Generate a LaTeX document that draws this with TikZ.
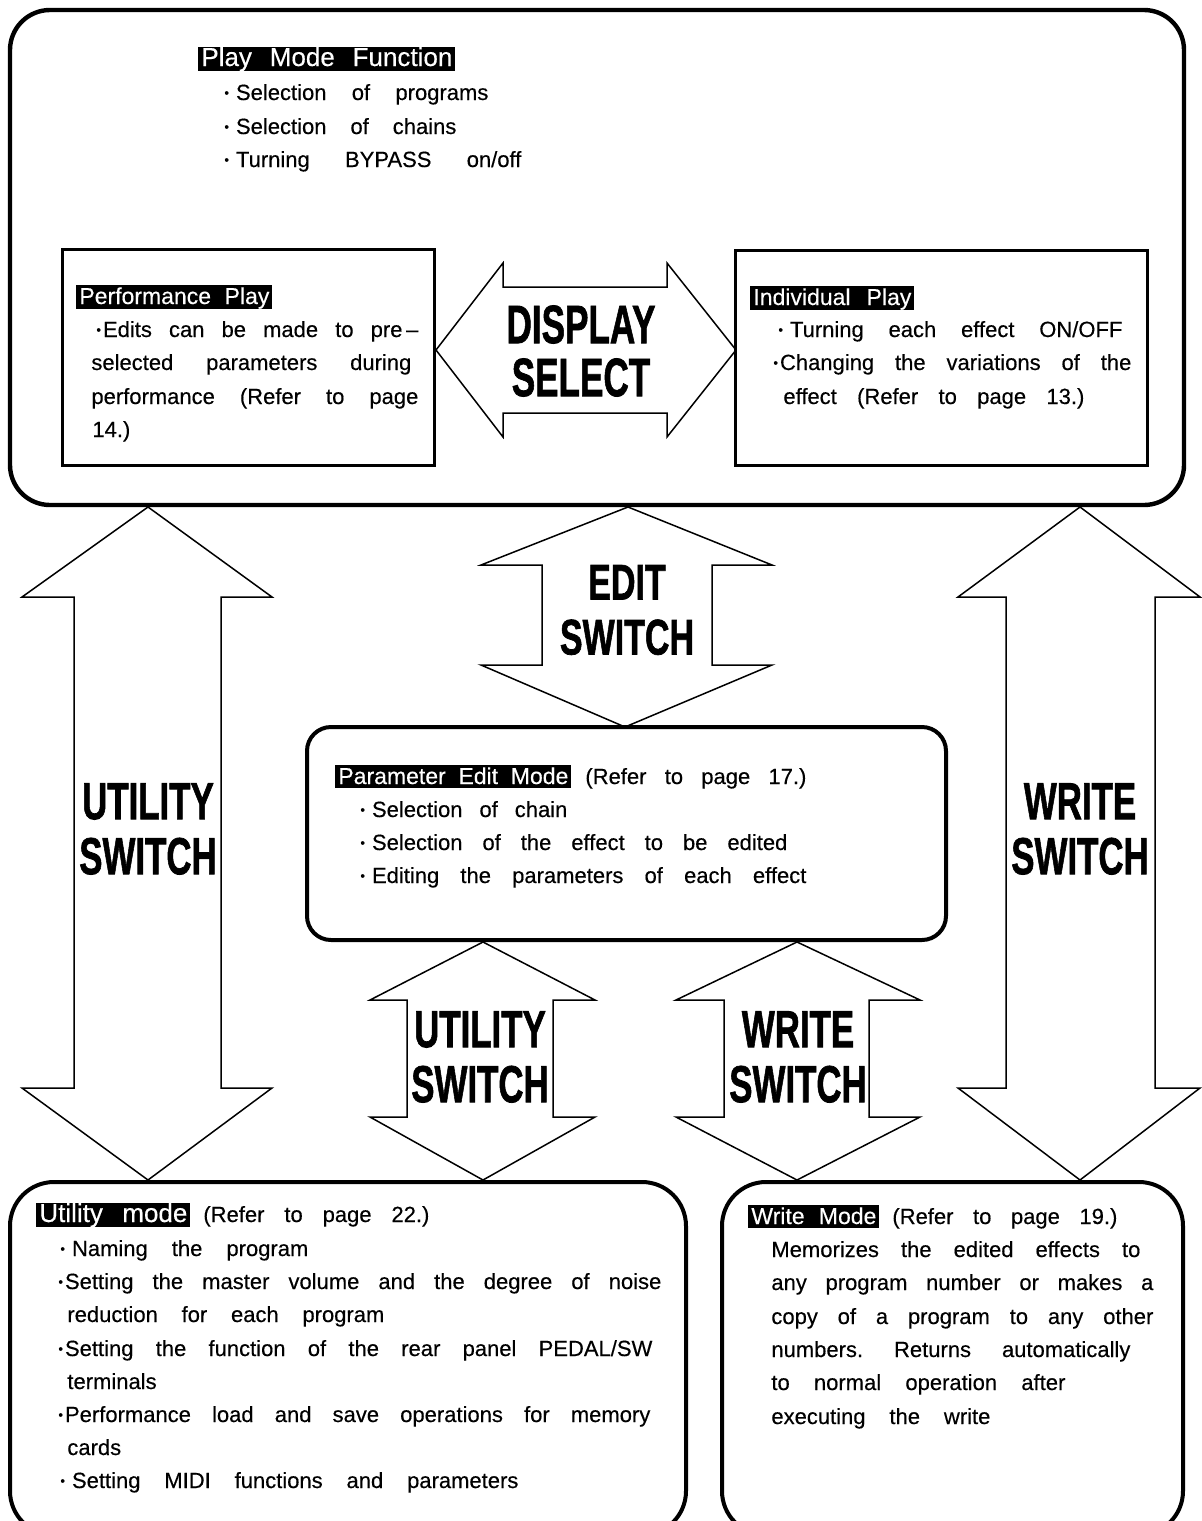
\documentclass[tikz,border=0pt]{standalone}
\usepackage{graphicx}
\usepackage{fontspec}
\setmainfont{Liberation Sans}[UprightFeatures={FakeBold=0.35}]
\newfontfamily\lblfont{Liberation Sans}[BoldFeatures={FakeBold=1.5}]
\newlength\px \setlength\px{0.5pt}
\newcommand\bodyfont{\fontsize{11}{16.6}\selectfont\frenchspacing\spaceskip=9pt plus 20pt minus 6pt\relax}
\newcommand\ttlfont{\fontsize{11.5}{16.6}\selectfont}
\newcommand\jl[2]{\makebox[#1\px][s]{#2}}
\newcommand\hlb[2]{{\setlength\fboxsep{0pt}\colorbox{black}{\color{white}\rule[-2pt]{0pt}{11.5pt}\hspace{1.5pt}\makebox[\dimexpr#1\px-3pt\relax][s]{#2}\hspace{1.5pt}}}}
\newcommand\bulA{\raisebox{0.12em}{\scalebox{0.6}{•}}\hspace{3.5pt}}
\newcommand\bulB{\raisebox{0.12em}{\scalebox{0.6}{•}}\hspace{1pt}}
\tikzset{
  arr/.style={draw, line width=0.75pt, fill=white, line join=miter},
  bigbox/.style={draw, line width=2.2pt, rounded corners=20pt},
  midbox/.style={draw, line width=2pt, rounded corners=12pt},
  botbox/.style={draw, line width=2pt, rounded corners=22pt},
  sqbox/.style={draw, line width=1.5pt},
  txt/.style={inner sep=0pt, anchor=base west, font=\bodyfont},
  lbl/.style={inner sep=0pt, align=center, font=\lblfont\bfseries\fontsize{26}{27.5}\selectfont}
}
\begin{document}
\begin{tikzpicture}[x=0.5pt, y=-0.5pt]
\useasboundingbox (0,0) rectangle (1201,1521);
\fill[white] (0,0) rectangle (1201,1521);

% ---- arrows ----
% DISPLAY SELECT (horizontal)
\draw[arr] (436,350) -- (503,263) -- (503,287) -- (667,287) -- (667,263) -- (736,350)
  -- (667,437) -- (667,413) -- (503,413) -- (503,437) -- cycle;
% EDIT SWITCH
\draw[arr] (628,507) -- (772,565) -- (712,565) -- (712,665) -- (772,665) -- (625,727)
  -- (481,665) -- (542,665) -- (542,565) -- (481,565) -- cycle;
% big UTILITY SWITCH
\draw[arr] (148,507) -- (272,597) -- (221,597) -- (221,1088) -- (272,1088) -- (148,1180)
  -- (22,1088) -- (74,1088) -- (74,597) -- (22,597) -- cycle;
% big WRITE SWITCH
\draw[arr] (1080,507) -- (1200,597) -- (1155,597) -- (1155,1088) -- (1200,1088) -- (1080,1180)
  -- (958,1088) -- (1006,1088) -- (1006,597) -- (958,597) -- cycle;
% small UTILITY SWITCH
\draw[arr] (483,942) -- (595,1000) -- (553,1000) -- (553,1117) -- (595,1117) -- (483,1180)
  -- (370,1117) -- (407,1117) -- (407,1000) -- (370,1000) -- cycle;
% small WRITE SWITCH
\draw[arr] (797,942) -- (920,1000) -- (869,1000) -- (869,1117) -- (920,1117) -- (797,1180)
  -- (676,1117) -- (724,1117) -- (724,1000) -- (676,1000) -- cycle;

% ---- boxes ----
\draw[bigbox] (10,10) rectangle (1184,505);
\draw[sqbox] (62,249) rectangle (434,465);
\draw[sqbox] (735,250) rectangle (1147,465);
\draw[midbox] (307,727) rectangle (946,940);
\draw[botbox] (10,1182) rectangle (686,1535);
\draw[botbox] (722,1182) rectangle (1183,1535);

% ---- labels ----
\node[lbl, font=\lblfont\bfseries\fontsize{27}{26.5}\selectfont] (ds) at (581,351)
  {\scalebox{0.65}[1]{DISPLAY}\\\scalebox{0.65}[1]{SELECT}};
\node[lbl, font=\lblfont\bfseries\fontsize{25}{27.5}\selectfont] (es) at (627,610)
  {\scalebox{0.68}[1]{EDIT}\\\scalebox{0.68}[1]{SWITCH}};
\node[lbl] (us) at (148,829) {\scalebox{0.67}[1]{UTILITY}\\\scalebox{0.67}[1]{SWITCH}};
\node[lbl] (ws) at (1080,829) {\scalebox{0.67}[1]{WRITE}\\\scalebox{0.67}[1]{SWITCH}};
\node[lbl] (us2) at (480,1057) {\scalebox{0.67}[1]{UTILITY}\\\scalebox{0.67}[1]{SWITCH}};
\node[lbl] (ws2) at (798,1057) {\scalebox{0.67}[1]{WRITE}\\\scalebox{0.67}[1]{SWITCH}};

% ---- Play mode ----
\node[txt] (pmf) at (198,66) {\fontsize{13}{16.6}\selectfont\hlb{257}{Play Mode Function}};
\node[txt] (pm1) at (224,100) {\jl{264}{\bulA Selection of programs}};
\node[txt] (pm2) at (224,134) {\jl{232}{\bulA Selection of chains}};
\node[txt] (pm3) at (224,167) {\jl{297}{\bulA Turning BYPASS on/off}};

% ---- Performance play ----
\node[txt] (pp) at (76,304) {\ttlfont\hlb{196}{Performance Play}};
\node[txt] (pp1) at (96,337) {\jl{322}{\bulB Edits can be made to pre\,–}};
\node[txt] (pp2) at (91,370) {\jl{320}{selected parameters during}};
\node[txt] (pp3) at (91,404) {\jl{327}{performance (Refer to page}};
\node[txt] (pp4) at (92,437) {14.)};

% ---- Individual play ----
\node[txt] (ip) at (750,305) {\ttlfont\hlb{164}{Individual Play}};
\node[txt] (ip1) at (778,337) {\jl{344}{\bulA Turning each effect ON/OFF}};
\node[txt] (ip2) at (773,370) {\jl{358}{\bulB Changing the variations of the}};
\node[txt] (ip3) at (783,404) {\jl{301}{effect (Refer to page 13.)}};

% ---- Parameter edit ----
\node[txt] (pe) at (335,784) {{\ttlfont\hlb{236}{Parameter Edit Mode}}\hspace{7pt}\jl{221}{(Refer to page 17.)}};
\node[txt] (pe1) at (360,817) {\jl{207}{\bulA Selection of chain}};
\node[txt] (pe2) at (360,850) {\jl{427}{\bulA Selection of the effect to be edited}};
\node[txt] (pe3) at (360,883) {\jl{446}{\bulA Editing the parameters of each effect}};

% ---- Utility mode ----
\node[txt] (um) at (36,1222) {{\fontsize{13}{16.6}\selectfont\hlb{154}{Utility mode}}\hspace{6.5pt}\jl{226}{(Refer to page 22.)}};
\node[txt] (um1) at (60,1256) {\jl{248}{\bulA Naming the program}};
\node[txt] (um2) at (58,1289) {\jl{603}{\bulB Setting the master volume and the degree of noise}};
\node[txt] (um3) at (67,1322) {\jl{317}{reduction for each program}};
\node[txt] (um4) at (58,1356) {\jl{594}{\bulB Setting the function of the rear panel PEDAL/SW}};
\node[txt] (um5) at (67,1389) {terminals};
\node[txt] (um6) at (58,1422) {\jl{592}{\bulB Performance load and save operations for memory}};
\node[txt] (um7) at (67,1455) {cards};
\node[txt] (um8) at (60,1488) {\jl{458}{\bulA Setting MIDI functions and parameters}};

% ---- Write mode ----
\node[txt] (wm) at (748,1224) {{\ttlfont\hlb{131}{Write Mode}}\hspace{6.5pt}\jl{225}{(Refer to page 19.)}};
\node[txt] (wm1) at (771,1257) {\jl{369}{Memorizes the edited effects to}};
\node[txt] (wm2) at (771,1290) {\jl{382}{any program number or makes a}};
\node[txt] (wm3) at (771,1324) {\jl{382}{copy of a program to any other}};
\node[txt] (wm4) at (771,1357) {\jl{359}{numbers. Returns automatically}};
\node[txt] (wm5) at (771,1390) {\jl{294}{to normal operation after}};
\node[txt] (wm6) at (771,1424) {\jl{219}{executing the write}};
\end{tikzpicture}
\end{document}
